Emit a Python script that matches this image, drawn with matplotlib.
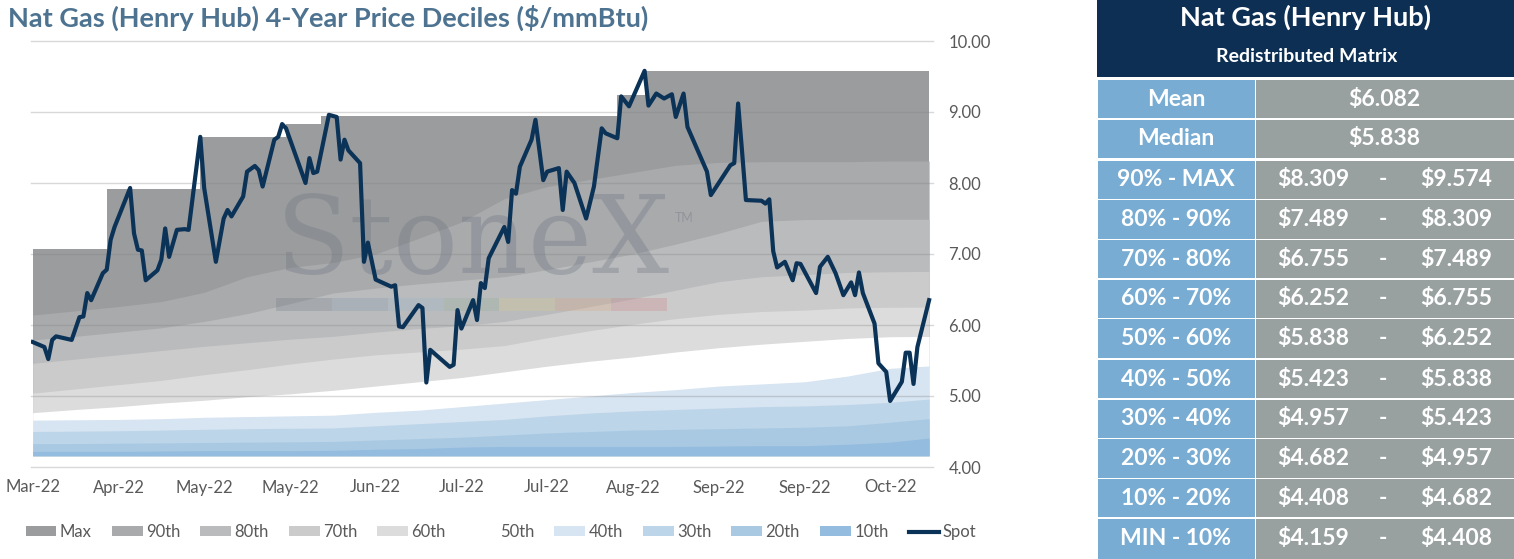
import matplotlib
matplotlib.use('Agg')
import matplotlib.pyplot as plt
from matplotlib.patches import Patch, Rectangle
from matplotlib.lines import Line2D

plt.rcParams['font.family'] = ['Lato', 'DejaVu Sans']

# x axis: trading-day index, a label every 22 steps
TICK_LABELS = ['Mar-22', 'Apr-22', 'May-22', 'May-22', 'Jun-22', 'Jul-22',
               'Jul-22', 'Aug-22', 'Sep-22', 'Sep-22', 'Oct-22']
TICK_STEP = 22
LAST_DAY = 230
Y_TICKS = [4, 5, 6, 7, 8, 9, 10]

# spot price (vertices of the line)
SPOT_DAY = [0, 3, 4, 5, 6, 10, 12, 13, 14, 15, 18, 19, 20, 21, 25, 26, 27, 28, 29,
            32, 33, 34, 35, 37, 39, 40, 43, 44, 47, 49, 50, 51, 54, 55, 57, 58, 59,
            62, 63, 64, 65, 70, 71, 72, 73, 76, 78, 79, 80, 81, 84, 85, 86, 88, 92,
            93, 94, 95, 99, 100, 101, 102, 107, 108, 109, 110, 113, 114, 115, 116,
            117, 121, 122, 123, 124, 125, 128, 129, 131, 132, 135, 136, 137, 139,
            142, 144, 146, 147, 150, 151, 153, 157, 158, 160, 162, 164, 165, 167,
            168, 173, 174, 179, 180, 181, 182, 183, 187, 188, 189, 190, 191, 193,
            195, 196, 197, 201, 202, 204, 206, 208, 210, 211, 212, 213, 216, 217,
            219, 220, 223, 224, 225, 226, 227, 230]
SPOT_PRICE = [5.76, 5.69, 5.52, 5.79, 5.84, 5.79, 6.11, 6.12, 6.45, 6.35, 6.73, 6.78,
              7.20, 7.38, 7.93, 7.29, 7.06, 7.05, 6.63, 6.77, 6.92, 7.36, 6.96, 7.34,
              7.35, 7.34, 8.65, 7.93, 6.89, 7.50, 7.62, 7.53, 7.81, 8.16, 8.24, 8.18,
              7.95, 8.61, 8.65, 8.83, 8.77, 8.00, 8.35, 8.14, 8.16, 8.96, 8.93, 8.33,
              8.61, 8.46, 8.28, 6.89, 7.16, 6.64, 6.54, 6.56, 5.98, 5.97, 6.28, 6.24,
              5.19, 5.65, 5.41, 5.44, 6.21, 5.95, 6.35, 6.07, 6.59, 6.52, 6.94, 7.38,
              7.17, 7.90, 7.85, 8.23, 8.61, 8.89, 8.04, 8.16, 8.21, 7.62, 8.16, 8.00,
              7.50, 7.95, 8.77, 8.70, 8.63, 9.22, 9.08, 9.58, 9.09, 9.26, 9.19, 9.25,
              8.93, 9.26, 8.79, 8.16, 7.83, 8.25, 8.28, 9.12, 8.45, 7.76, 7.75, 7.71,
              7.77, 7.04, 6.81, 6.89, 6.63, 6.87, 6.86, 6.45, 6.82, 6.96, 6.73, 6.42,
              6.60, 6.42, 6.74, 6.45, 6.02, 5.46, 5.34, 4.93, 5.20, 5.61, 5.61, 5.17,
              5.69, 6.35]

# running 4-year max (step series)
MAX_DAY = [0, 19, 43, 65, 74, 150, 157, 230]
MAX_PRICE = [7.07, 7.92, 8.65, 8.83, 8.94, 9.24, 9.574, 9.574]

# percentile tops, sampled every 11 days
BAND_DAY = [0, 11, 22, 33, 44, 55, 66, 77, 88, 99, 110, 121, 132, 143, 154, 165,
            176, 187, 198, 209, 220, 230]
P90 = [6.14, 6.20, 6.26, 6.33, 6.46, 6.68, 6.81, 6.88, 7.00, 7.22, 7.45, 7.78,
       7.95, 8.05, 8.15, 8.25, 8.29, 8.30, 8.30, 8.30, 8.31, 8.309]
P80 = [5.79, 5.84, 5.90, 5.96, 6.05, 6.16, 6.30, 6.45, 6.52, 6.58, 6.63, 6.68,
       6.78, 6.89, 7.00, 7.14, 7.29, 7.46, 7.485, 7.489, 7.489, 7.489]
P70 = [5.46, 5.52, 5.58, 5.64, 5.70, 5.75, 5.80, 5.84, 5.90, 5.95, 5.99, 6.05,
       6.15, 6.26, 6.37, 6.49, 6.61, 6.68, 6.71, 6.74, 6.75, 6.755]
P60 = [5.04, 5.10, 5.16, 5.22, 5.30, 5.37, 5.45, 5.52, 5.58, 5.62, 5.66, 5.71,
       5.82, 5.92, 6.01, 6.09, 6.15, 6.19, 6.21, 6.24, 6.25, 6.252]
P50 = [4.765, 4.81, 4.85, 4.90, 4.94, 4.99, 5.03, 5.08, 5.14, 5.20, 5.26, 5.34,
       5.42, 5.49, 5.55, 5.62, 5.68, 5.73, 5.77, 5.81, 5.835, 5.838]
P40 = [4.66, 4.665, 4.67, 4.68, 4.70, 4.71, 4.72, 4.73, 4.77, 4.80, 4.85, 4.90,
       4.95, 5.00, 5.05, 5.09, 5.14, 5.17, 5.20, 5.28, 5.39, 5.423]
P30 = [4.50, 4.505, 4.51, 4.52, 4.53, 4.54, 4.545, 4.55, 4.58, 4.61, 4.64, 4.67,
       4.72, 4.76, 4.79, 4.81, 4.83, 4.85, 4.86, 4.88, 4.91, 4.957]
P20 = [4.33, 4.33, 4.335, 4.34, 4.345, 4.35, 4.355, 4.36, 4.38, 4.40, 4.42, 4.45,
       4.48, 4.50, 4.52, 4.53, 4.54, 4.55, 4.56, 4.58, 4.63, 4.682]
P10 = [4.22, 4.22, 4.22, 4.225, 4.23, 4.23, 4.23, 4.235, 4.25, 4.26, 4.28, 4.29,
       4.29, 4.29, 4.29, 4.29, 4.295, 4.30, 4.30, 4.32, 4.35, 4.408]
MIN_PRICE = 4.159

BAND_NAMES = ['Max', '90th', '80th', '70th', '60th', '50th', '40th', '30th', '20th', '10th']
BAND_COLORS = ['#9b9c9e', '#a9aaac', '#babbbd', '#cbcbcb', '#dcdcdc', '#ffffff',
               '#d7e4f1', '#bcd5e9', '#a9c9e3', '#93bcde']
SPOT_COLOR = '#0b3358'

# table on the right
TABLE_TITLE = 'Nat Gas (Henry Hub)'
TABLE_SUB = 'Redistributed Matrix'
MEAN = 6.082
MEDIAN = 5.838
RANGE_LABELS = ['90% - MAX', '80% - 90%', '70% - 80%', '60% - 70%', '50% - 60%',
                '40% - 50%', '30% - 40%', '20% - 30%', '10% - 20%', 'MIN - 10%']
RANGE_LOW = [8.309, 7.489, 6.755, 6.252, 5.838, 5.423, 4.957, 4.682, 4.408, 4.159]
RANGE_HIGH = [9.574, 8.309, 7.489, 6.755, 6.252, 5.838, 5.423, 4.957, 4.682, 4.408]

W, H = 1514, 559
fig = plt.figure(figsize=(W / 100, H / 100), dpi=100)
ax = fig.add_axes([30.7 / W, 1 - 467 / H, (933 - 30.7) / W, (467 - 41) / H])

# bands, painted from the top one down
ax.fill_between(MAX_DAY, MIN_PRICE, MAX_PRICE, step='post', color=BAND_COLORS[0],
                lw=0, zorder=1)
for top, col in zip([P90, P80, P70, P60, P50, P40, P30, P20, P10], BAND_COLORS[1:]):
    ax.fill_between(BAND_DAY, MIN_PRICE, top, color=col, lw=0, zorder=1)

# StoneX watermark
ax.text(0.272, 0.455, 'StoneX', transform=ax.transAxes, family='DejaVu Serif',
        fontsize=78, color='#6c7682', alpha=0.33, ha='left', va='baseline', zorder=2)
ax.text(0.714, 0.585, 'TM', transform=ax.transAxes, fontsize=9, color='#6c7682',
        alpha=0.4, ha='left', va='center', zorder=2)
wm_cols = ['#5d6b79', '#6f8ca8', '#93b2cb', '#84a98d', '#e3cf7a', '#e4a06c', '#d06a6e']
seg_w = (0.705 - 0.272) / len(wm_cols)
for k, c in enumerate(wm_cols):
    ax.add_patch(Rectangle((0.272 + k * seg_w, 0.366), seg_w, 0.031, transform=ax.transAxes,
                           facecolor=c, alpha=0.22, lw=0, zorder=2))

for yv in Y_TICKS:
    ax.axhline(yv, color='#808080', alpha=0.3, lw=1, zorder=3, clip_on=False)

ax.plot(SPOT_DAY, SPOT_PRICE, color=SPOT_COLOR, lw=3, zorder=4, solid_joinstyle='round')

ax.set_xlim(-0.51, 231.0)
ax.set_ylim(4, 10)
ax.set_xticks(range(0, LAST_DAY, TICK_STEP)[:len(TICK_LABELS)])
ax.set_xticklabels(TICK_LABELS)
ax.set_yticks(Y_TICKS)
ax.set_yticklabels(['%.2f' % v for v in Y_TICKS])
ax.yaxis.tick_right()
ax.tick_params(axis='both', length=0, labelsize=12, labelcolor='#595959')
ax.tick_params(axis='y', pad=11)
ax.tick_params(axis='x', pad=9)
for s in ax.spines.values():
    s.set_visible(False)
ax.patch.set_visible(False)

handles = [Patch(facecolor=c, edgecolor='none') for c in BAND_COLORS]
handles.append(Line2D([0], [0], color=SPOT_COLOR, lw=3))
leg = fig.legend(handles, BAND_NAMES + ['Spot'], ncol=11, loc='center',
                 bbox_to_anchor=(501 / W, 1 - 532 / H), frameon=False, fontsize=12,
                 handlelength=1.85, handleheight=0.55, handletextpad=0.2,
                 columnspacing=1.2, borderpad=0)
for t in leg.get_texts():
    t.set_color('#595959')

# overlay in pixel coordinates for title and table
tab = fig.add_axes([0, 0, 1, 1], zorder=5)
tab.set_xlim(0, W)
tab.set_ylim(H, 0)
tab.axis('off')

tab.text(8, 18, 'Nat Gas (Henry Hub) 4-Year Price Deciles ($/mmBtu)', fontsize=19.5,
         weight='bold', color='#4d7391', ha='left', va='center')

navy = '#0c2f53'
blue = '#78acd3'
grey = '#98a1a0'
tx0, tx_split, tx1 = 1097, 1254.5, W
tab.add_patch(Rectangle((tx0, 0), tx1 - tx0, 77, facecolor=navy, lw=0))
tab.text(1306, 17, TABLE_TITLE, fontsize=19.5, weight='bold', color='white',
         ha='center', va='center')
tab.text(1307, 57, TABLE_SUB, fontsize=14, weight='bold', color='white',
         ha='center', va='center')

row_h, gap, big_gap = 38.3, 1.4, 2.5
fs = 16.5
rows = [('Mean', MEAN, None), ('Median', MEDIAN, None)]
rows += [(lab, lo, hi) for lab, lo, hi in zip(RANGE_LABELS, RANGE_LOW, RANGE_HIGH)]
y = 80
for k, (lab, lo, hi) in enumerate(rows):
    h = row_h if k < len(rows) - 1 else H - y
    tab.add_patch(Rectangle((tx0 + 1, y), tx_split - tx0 - 1, h, facecolor=blue, lw=0))
    tab.add_patch(Rectangle((tx_split + 1.5, y), tx1 - tx_split - 1.5, h,
                            facecolor=grey, lw=0))
    yc = y + row_h / 2
    tab.text(1176, yc, lab, fontsize=fs, weight='bold', color='white',
             ha='center', va='center')
    if hi is None:
        tab.text(1384, yc, '$%.3f' % lo, fontsize=fs, weight='bold', color='white',
                 ha='center', va='center')
    else:
        tab.text(1313, yc, '$%.3f' % lo, fontsize=fs, weight='bold', color='white',
                 ha='center', va='center')
        tab.text(1383, yc, '-', fontsize=fs, weight='bold', color='white',
                 ha='center', va='center')
        tab.text(1456, yc, '$%.3f' % hi, fontsize=fs, weight='bold', color='white',
                 ha='center', va='center')
    y += row_h + (big_gap if k in (1, 6) else gap)

fig.savefig('out.png', dpi=100)
